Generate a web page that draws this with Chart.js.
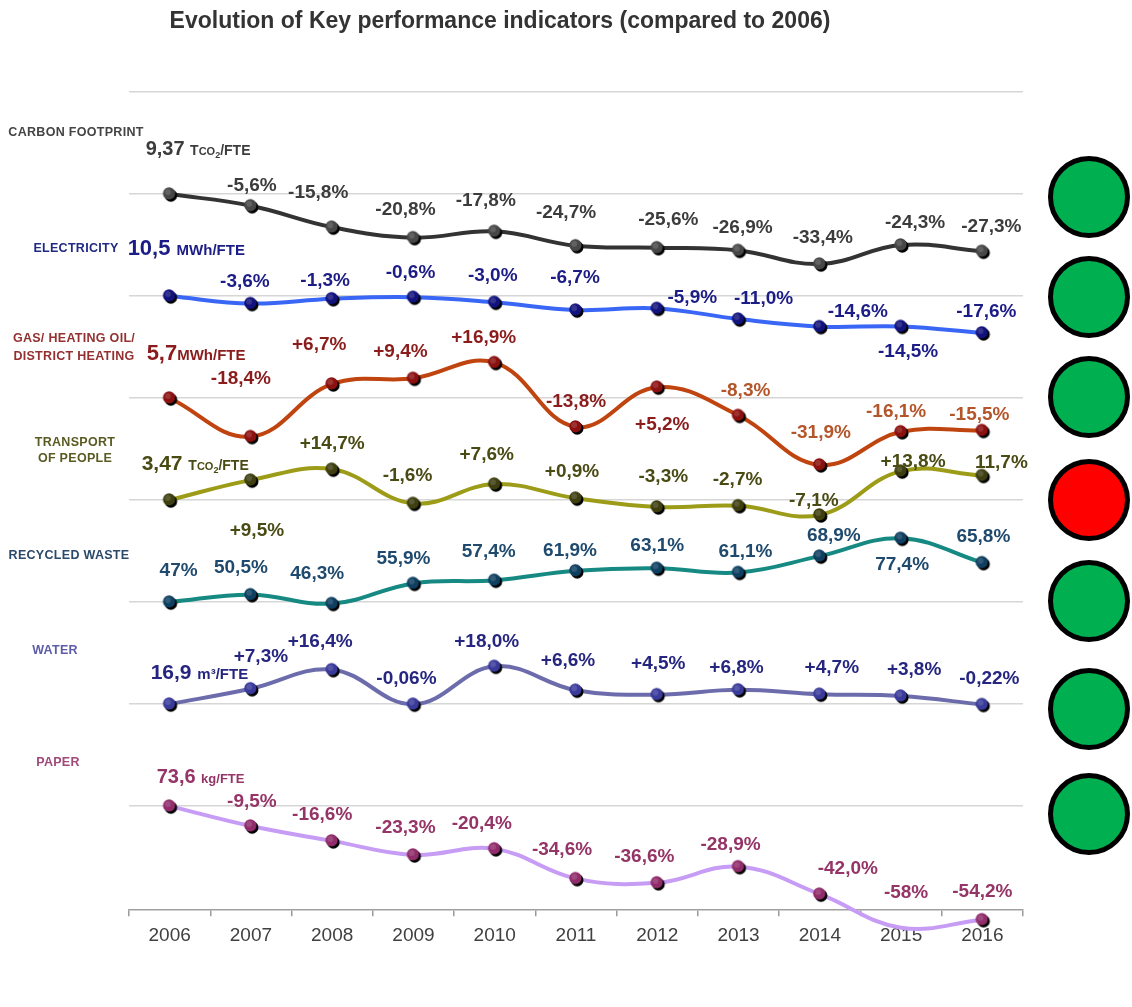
<!DOCTYPE html>
<html><head><meta charset="utf-8">
<script src="https://cdn.jsdelivr.net/npm/chart.js@4.4.0/dist/chart.umd.min.js"></script>
<style>html,body{margin:0;padding:0;background:#fff}canvas{display:block}</style>
</head><body><canvas id="c" width="1132" height="1007"></canvas>
<script>
// ---------- DATA ----------
const years = ['2006','2007','2008','2009','2010','2011','2012','2013','2014','2015','2016'];
const carbon      = [0,-5.6,-15.8,-20.8,-17.8,-24.7,-25.6,-26.9,-33.4,-24.3,-27.3];
const electricity = [0,-3.6,-1.3,-0.6,-3.0,-6.7,-5.9,-11.0,-14.6,-14.5,-17.6];
const gas         = [0,-18.4,6.7,9.4,16.9,-13.8,5.2,-8.3,-31.9,-16.1,-15.5];
const transport   = [0,9.5,14.7,-1.6,7.6,0.9,-3.3,-2.7,-7.1,13.8,11.7];
const recycled    = [47,50.5,46.3,55.9,57.4,61.9,63.1,61.1,68.9,77.4,65.8];
const water       = [0,7.3,16.4,-0.06,18.0,6.6,4.5,6.8,4.7,3.8,-0.22];
const paper       = [0,-9.5,-16.6,-23.3,-20.4,-34.6,-36.6,-28.9,-42.0,-58,-54.2];
const seriesBase  = [0,0,0,0,47,0,0];   // value each row is drawn around (its 2006 level)

const seriesNames = [['CARBON FOOTPRINT'],['ELECTRICITY'],['GAS/ HEATING OIL/','DISTRICT HEATING'],['TRANSPORT','OF PEOPLE'],['RECYCLED WASTE'],['WATER'],['PAPER']];
const refValues = ['9,37','10,5','5,7','3,47',null,'16,9','73,6'];
const refUnits  = ['TCO₂/FTE','MWh/FTE','MWh/FTE','TCO₂/FTE',null,'m³/FTE','kg/FTE'];
const status    = ['green','green','green','red','green','green','green'];

const carbonLabels      = [null,'-5,6%','-15,8%','-20,8%','-17,8%','-24,7%','-25,6%','-26,9%','-33,4%','-24,3%','-27,3%'];
const electricityLabels = [null,'-3,6%','-1,3%','-0,6%','-3,0%','-6,7%','-5,9%','-11,0%','-14,6%','-14,5%','-17,6%'];
const gasLabels         = [null,'-18,4%','+6,7%','+9,4%','+16,9%','-13,8%','+5,2%','-8,3%','-31,9%','-16,1%','-15,5%'];
const transportLabels   = [null,'+9,5%','+14,7%','-1,6%','+7,6%','+0,9%','-3,3%','-2,7%','-7,1%','+13,8%','11,7%'];
const recycledLabels    = ['47%','50,5%','46,3%','55,9%','57,4%','61,9%','63,1%','61,1%','68,9%','77,4%','65,8%'];
const waterLabels       = [null,'+7,3%','+16,4%','-0,06%','+18,0%','+6,6%','+4,5%','+6,8%','+4,7%','+3,8%','-0,22%'];
const paperLabels       = [null,'-9,5%','-16,6%','-23,3%','-20,4%','-34,6%','-36,6%','-28,9%','-42,0%','-58%','-54,2%'];

const allValues = [carbon,electricity,gas,transport,recycled,water,paper];
const allLabels = [carbonLabels,electricityLabels,gasLabels,transportLabels,recycledLabels,waterLabels,paperLabels];

// ---------- STYLE / PLACEMENT ----------
const ROW = 48.65;              // value units between two rows
const FONT = '"Liberation Sans", Arial, sans-serif';
const lineColors  = ['#333333','#3a66f5','#c0440f','#9c9c18','#168a82','#6c6cac','#c79cf5'];
const pointColors = ['#474747','#12127c','#8b1010','#3e3e10','#0f3f60','#3a3a9a','#902c6a'];
const labelColors = ['#3c3c3c','#1c1c86','#8a1c1c','#4a4a14','#1f4a6e','#262680','#953466'];
const gasLateColor = '#b4552a';
const nameColors  = ['#444444','#1f2a80','#943030','#5a5a22','#2b4a6a','#5c5ca8','#a04a7a'];
// label offsets (dx,dy) from the point, in px
const labelOffsets = [
  [null,[1,-20],[-14,-34],[-8,-28],[-9,-31],[-10,-33],[11,-28],[4,-23],[3,-26],[14,-22],[9,-24]],
  [null,[-6,-22],[-7,-18],[-3,-25],[-2,-27],[-1,-32],[35,-11],[25,-20],[38,-15],[7,25],[4,-21]],
  [null,[-10,-58],[-13,-39],[-13,-27],[-11,-25],[0,-25],[5,38],[7,-25],[1,-32],[-5,-20],[-3,-16]],
  [null,[6,51],[0,-25],[-6,-28],[-8,-29],[-4,-26],[6,-30],[-1,-26],[-6,-14],[12,-9],[19,-13]],
  [[9,-31],[-10,-27],[-15,-30],[-10,-25],[-6,-28],[-6,-20],[0,-23],[7,-21],[14,-20],[1,26],[1,-26]],
  [null,[10,-32],[-12,-28],[-7,-25],[-8,-25],[-8,-29],[1,-31],[-2,-22],[12,-26],[13,-26],[7,-26]],
  [null,[1,-24],[-10,-26],[-8,-27],[-13,-25],[-14,-29],[-13,-26],[-8,-22],[28,-25],[5,-35],[0,-28]]
];
const refOffsets = [[-24,-46],[-42,-48],[-23,-45],[-28,-37],null,[-19,-32],[-13,-30]];
const refSizes = [[20,14],[22,15],[22,15],[21,14],null,[21,15],[20,13]];
const nameX = [76,76,74,75,69,55,58];
const nameDy = [[-61],[-47],[-59,-41],[-58,-42],[-47],[-54],[-44]];
const circleDy = [3,1,-1,0,-1,5,8];

function makePoint(fill){
  const c=document.createElement('canvas'); c.width=18; c.height=18;
  const g=c.getContext('2d');
  g.fillStyle='#000'; g.beginPath(); g.arc(10.2,10.4,6.3,0,Math.PI*2); g.fill();
  g.fillStyle=fill; g.beginPath(); g.arc(8.4,8.4,6.1,0,Math.PI*2); g.fill();
  g.fillStyle='rgba(255,255,255,0.15)'; g.beginPath(); g.arc(7.2,7.0,3,0,Math.PI*2); g.fill();
  return c;
}

const datasets = allValues.map((vals,i)=>({
  label: seriesNames[i].join(' '),
  data: vals.map(v => v - seriesBase[i] - i*ROW),
  borderColor: lineColors[i],
  borderWidth: 4,
  tension: 0.4,
  fill: false,
  clip: false,
  pointStyle: makePoint(pointColors[i]),
  pointRadius: 7
}));

const drawPlugin = {
  id:'decor',
  afterDatasetsDraw(chart){
    const ctx = chart.ctx;
    ctx.save();
    allLabels.forEach((labels,i)=>{
      const meta = chart.getDatasetMeta(i);
      labels.forEach((t,j)=>{
        if(!t) return;
        const p = meta.data[j], o = labelOffsets[i][j];
        ctx.font = 'bold 19px ' + FONT;
        ctx.fillStyle = (i===2 && j>=7) ? gasLateColor : labelColors[i];
        ctx.textAlign='center'; ctx.textBaseline='middle';
        ctx.fillText(t, p.x+o[0], p.y+o[1]);
      });
      if(refValues[i]){
        const p = meta.data[0], o = refOffsets[i];
        let x = p.x+o[0]; const base = p.y+o[1]+7;
        ctx.textAlign='left'; ctx.textBaseline='alphabetic';
        ctx.fillStyle = labelColors[i];
        ctx.font = 'bold '+refSizes[i][0]+'px '+FONT;
        const v = refValues[i] + (i===2 ? '' : ' ');
        ctx.fillText(v,x,base); x += ctx.measureText(v).width;
        const u = refUnits[i];
        if(u.startsWith('TCO')){
          ctx.font='bold 14px '+FONT; ctx.fillText('T',x,base); x+=ctx.measureText('T').width;
          ctx.font='bold 11px '+FONT; ctx.fillText('CO',x,base); x+=ctx.measureText('CO').width;
          ctx.font='bold 9px '+FONT; ctx.fillText('2',x,base+3); x+=ctx.measureText('2').width;
          ctx.font='bold 14px '+FONT; ctx.fillText('/FTE',x,base);
        } else {
          ctx.font='bold '+refSizes[i][1]+'px '+FONT; ctx.fillText(u,x,base);
        }
      }
    });
    ctx.restore();
  },
  afterDraw(chart){
    const ctx = chart.ctx, y = chart.scales.y;
    ctx.save();
    ctx.font = 'bold 23px '+FONT; ctx.fillStyle='#333'; ctx.textAlign='center'; ctx.textBaseline='middle';
    ctx.fillText('Evolution of Key performance indicators (compared to 2006)', 500, 22);
    seriesNames.forEach((lines,i)=>{
      const by = y.getPixelForValue(-i*ROW);
      ctx.font = 'bold 12.5px '+FONT; ctx.fillStyle = nameColors[i];
      ctx.letterSpacing = '0.3px';
      ctx.textAlign='center'; ctx.textBaseline='middle';
      lines.forEach((ln,k)=> ctx.fillText(ln, nameX[i], by+nameDy[i][k]));
      ctx.letterSpacing = '0px';
      ctx.beginPath(); ctx.arc(1089, by+circleDy[i], 38.5, 0, Math.PI*2);
      ctx.fillStyle = status[i]==='red' ? '#ff0000' : '#00b050'; ctx.fill();
      ctx.lineWidth=5; ctx.strokeStyle='#000'; ctx.stroke();
    });
    ctx.restore();
  }
};

new Chart(document.getElementById('c'), {
  type:'line',
  data:{ labels: years, datasets },
  options:{
    responsive:false, animation:false,
    layout:{ padding:{ left:129, right:109, top:92, bottom:52 } },
    elements:{ line:{ capBezierPoints:false } },
    plugins:{ legend:{display:false}, title:{display:false}, tooltip:{enabled:false} },
    scales:{
      x:{
        offset:true,
        grid:{ display:true, drawOnChartArea:false, drawTicks:true, tickLength:6, offset:true, color:'#9a9a9a', lineWidth:1.5 },
        border:{ display:true, color:'#a0a0a0', width:1.5 },
        ticks:{ color:'#404040', font:{ size:19, family:FONT }, padding:8 }
      },
      y:{
        min: -7*ROW-1, max: ROW,
        afterBuildTicks(s){ s.ticks = [1,0,-1,-2,-3,-4,-5,-6].map(k=>({value:k*ROW})); },
        grid:{ color:'#d6d6d6', lineWidth:1.5, drawTicks:false },
        border:{ display:false },
        ticks:{ display:false }
      }
    }
  },
  plugins:[drawPlugin]
});
</script>
</body></html>
